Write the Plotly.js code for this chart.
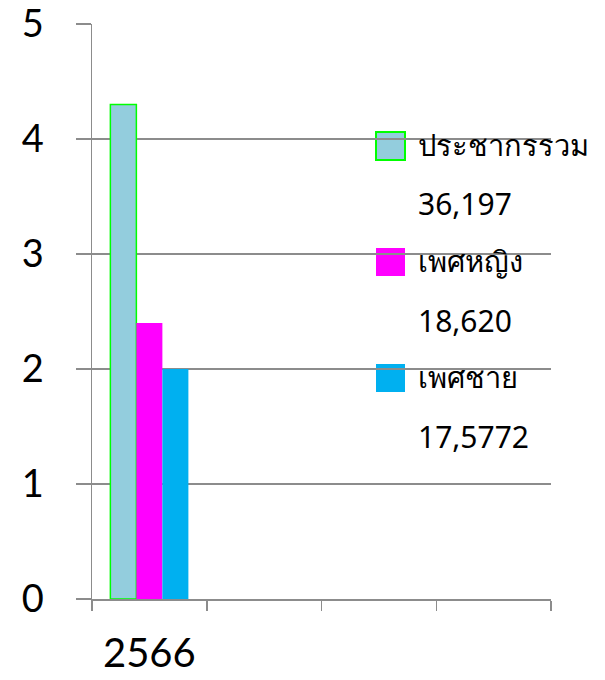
<!DOCTYPE html>
<html>
<head>
<meta charset="utf-8">
<script src="https://cdn.plot.ly/plotly-3.0.1.min.js"></script>
<style>html,body{margin:0;padding:0;background:#fff;}#chart{width:605px;height:680px;}</style>
</head>
<body>
<div id="chart"></div>
<script>
// ---- data ----
const categories = ['2566', ' ', '  ', '   '];
const seriesNames = ['ประชากรรวม', 'เพศหญิง', 'เพศชาย'];
const seriesValues = [[4.3], [2.4], [2.0]];
const legendNumbers = ['36,197', '18,620', '17,5772'];
const yTickValues = [0, 1, 2, 3, 4, 5];

// ---- style ----
const fillColors = ['#93CDDD', '#FF00FF', '#00B0F0'];
const lineColors = ['#00FF00', 'rgba(0,0,0,0)', 'rgba(0,0,0,0)'];
const lineWidths = [1.5, 0, 0];
const gridColor = '#8c8c8c';

const traces = seriesNames.map((name, i) => ({
  type: 'bar',
  name: name,
  x: [categories[0]],
  y: seriesValues[i],
  marker: {color: fillColors[i], line: {color: lineColors[i], width: lineWidths[i]}},
  showlegend: false,
  hoverinfo: 'none'
}));

// plot area geometry (px) for custom legend placement
const L = 92, R = 551, T = 24, B = 599;
const W = R - L, H = B - T;
const px2x = p => (p - L) / W;
const px2y = p => (B - p) / H;

const shapes = [];
const annotations = [];
seriesNames.forEach((name, i) => {
  const cy = 146 + i * 116;
  shapes.push({
    type: 'rect', xref: 'paper', yref: 'paper', layer: 'below',
    x0: px2x(376), x1: px2x(405), y0: px2y(cy + 14), y1: px2y(cy - 14),
    fillcolor: fillColors[i],
    line: {color: lineWidths[i] > 0 ? lineColors[i] : fillColors[i], width: lineWidths[i] > 0 ? 2 : 0}
  });
  annotations.push({
    xref: 'paper', yref: 'paper', x: px2x(416), y: px2y(cy - 2),
    xanchor: 'left', yanchor: 'middle', showarrow: false,
    text: name, font: {family: 'Noto Sans, sans-serif', size: 29, color: '#000'}
  });
  annotations.push({
    xref: 'paper', yref: 'paper', x: px2x(416), y: px2y(cy + 58),
    xanchor: 'left', yanchor: 'middle', showarrow: false,
    text: legendNumbers[i], font: {family: 'Noto Sans, sans-serif', size: 30, color: '#000'}
  });
});

const layout = {
  width: 605, height: 680,
  margin: {l: L, r: 605 - R, t: T, b: 680 - B, pad: 0},
  paper_bgcolor: '#fff', plot_bgcolor: 'rgba(0,0,0,0)',
  showlegend: false,
  barmode: 'group', bargap: 0.32, bargroupgap: 0,
  xaxis: {
    type: 'category', categoryorder: 'array', categoryarray: categories,
    range: [-0.5, 3.5], tickson: 'boundaries',
    showgrid: false, zeroline: false,
    showline: true, linecolor: gridColor, linewidth: 1.5,
    ticks: 'outside', ticklen: 10, tickwidth: 1.5, tickcolor: gridColor,
    ticklabelstandoff: 18, ticklabeloverflow: 'allow',
    tickfont: {family: 'Lato, sans-serif', size: 40, color: '#000'},
    fixedrange: true
  },
  yaxis: {
    range: [0, 5], tickvals: yTickValues, ticktext: yTickValues.map(String),
    showgrid: true, gridcolor: gridColor, gridwidth: 1.5,
    zeroline: false,
    showline: true, linecolor: gridColor, linewidth: 1.5,
    ticks: 'outside', ticklen: 15, tickwidth: 1.5, tickcolor: gridColor,
    ticklabelstandoff: 24, ticklabeloverflow: 'allow',
    tickfont: {family: 'Lato, sans-serif', size: 38, color: '#000'},
    fixedrange: true
  },
  shapes: shapes,
  annotations: annotations
};

Plotly.newPlot('chart', traces, layout, {displayModeBar: false, staticPlot: true});
</script>
</body>
</html>
